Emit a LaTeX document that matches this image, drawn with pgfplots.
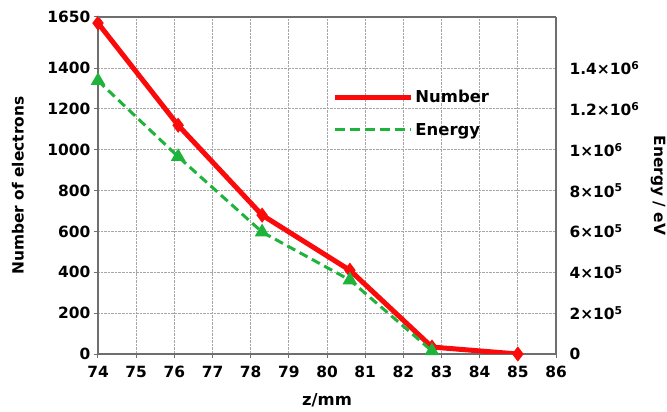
\documentclass[border=0pt]{standalone}
\usepackage{pgfplots}
\pgfplotsset{compat=1.18}
\usepackage{fontspec}
\setmainfont{DejaVu Sans}[UprightFont=* Bold, BoldFont=* Bold]
\definecolor{myred}{RGB}{250,10,10}
\definecolor{mygreen}{RGB}{30,180,60}
\definecolor{axcol}{RGB}{110,110,110}
\begin{document}
\begin{tikzpicture}
\pgfplotsset{
  every axis/.append style={
    scale only axis, width=458bp, height=337bp,
    at={(0,0)}, anchor=south west,
    xmin=74, xmax=86, ymin=0,
    /pgf/number format/assume math mode=true,
    /pgf/number format/1000 sep={},
    tick label style={font=\fontsize{15.5}{17}\selectfont},
    label style={font=\fontsize{15.5}{18}\selectfont},
    axis line style={axcol, line width=1.2pt},
  }
}
\begin{axis}[
  ymax=1650,
  axis y line*=left,
  axis x line*=bottom,
  xtick={74,...,86},
  ytick={0,200,400,600,800,1000,1200,1400,1650},
  xticklabel style={yshift=-5bp},
  tick align=outside,
  major tick length=4bp,
  tick style={axcol, line width=1pt},
  xmajorgrids, ymajorgrids,
  grid style={densely dotted, gray!70, line width=0.9pt},
  ylabel={Number of electrons},
  xlabel={z/mm},
  ylabel style={at={(rel axis cs:-0.175,0.5)}, anchor=center},
  xlabel style={at={(rel axis cs:0.5,-0.137)}, anchor=center, font=\fontsize{16.5}{19}\selectfont},
  legend style={at={(rel axis cs:0.505,0.795)}, anchor=north west, draw=none, fill=none,
    font=\fontsize{16.5}{19}\selectfont, row sep=15bp, cells={anchor=west}},
  legend image code/.code={\path (0bp,0bp) -- (76bp,0bp); \draw[#1] (0bp,0bp) -- (70bp,0bp);},
]
\addplot[myred, line width=5bp, mark=diamond*, mark size=3.5bp, mark options={solid}]
  coordinates {(74,1620) (76.1,1120) (78.3,680) (80.6,410) (82.75,34) (85,0)};
\addlegendentry{Number}
\addlegendimage{mygreen, dash pattern=on 10bp off 5bp, line width=3bp}
\addlegendentry{Energy}
\end{axis}
\begin{axis}[
  ymax=1650000,
  axis y line*=right,
  axis x line*=top,
  xtick=\empty,
  ytick={0,200000,400000,600000,800000,1000000,1200000,1400000},
  yticklabels={0,{2×10\textsuperscript{5}},{4×10\textsuperscript{5}},{6×10\textsuperscript{5}},{8×10\textsuperscript{5}},{1×10\textsuperscript{6}},{1.2×10\textsuperscript{6}},{1.4×10\textsuperscript{6}}},
  yticklabel style={anchor=west, xshift=10bp},
  major tick length=0bp,
  scaled y ticks=false,
  ylabel={Energy / eV},
  ylabel style={at={(rel axis cs:1.223,0.5)}, anchor=center, rotate=180},
]
\addplot[mygreen, line width=3bp, dash pattern=on 9bp off 5bp, mark=triangle*, mark size=5.5bp, mark options={solid}]
  coordinates {(74,1338000) (76.1,966000) (78.3,597000) (80.6,362000) (82.75,15000)};
\end{axis}
\pgfresetboundingbox
\path (-98bp,-58bp) rectangle (569bp,354bp);
\end{tikzpicture}
\end{document}
